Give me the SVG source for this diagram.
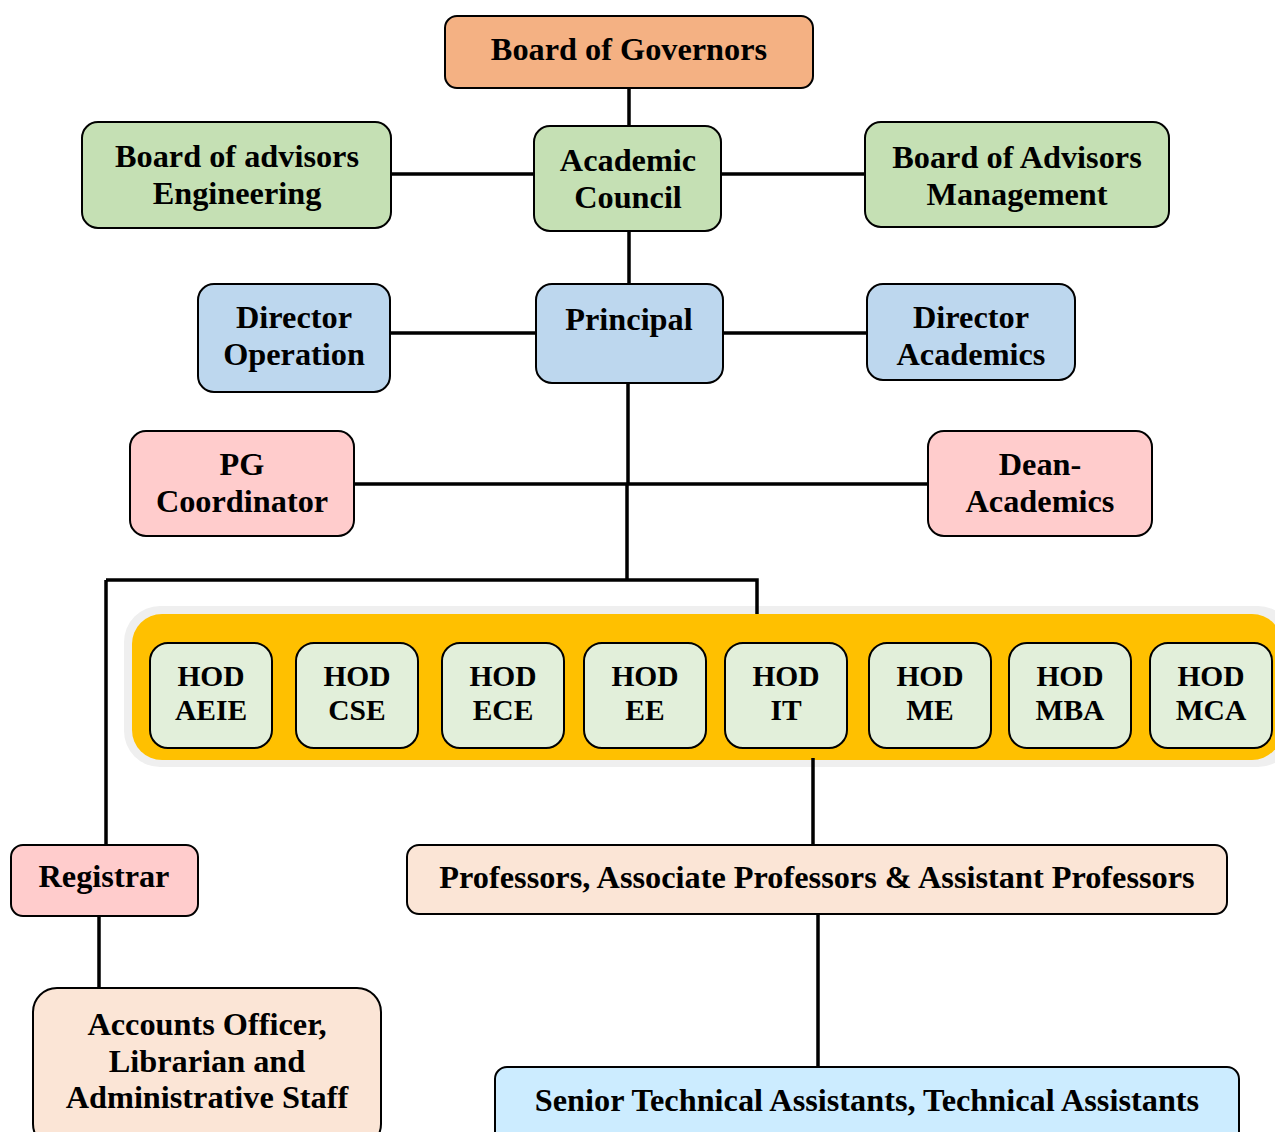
<svg xmlns="http://www.w3.org/2000/svg" width="1275" height="1132" viewBox="0 0 1275 1132">
<style>
.b{stroke:#000;stroke-width:2}
.t{font-family:"Liberation Serif","Times New Roman",serif;font-weight:bold;font-size:32.3px;fill:#000;text-anchor:middle}
.h{font-size:29.5px}
.c{fill:none;stroke:#000;stroke-width:3.5}
.g{fill:#C5E0B4}.bl{fill:#BDD7EE}.pk{fill:#FFCCCC}.hd{fill:#E2EFDA}.pe{fill:#FBE5D6}
</style>
<rect width="1275" height="1132" fill="#fff"/>
<g id="band">
<rect x="124" y="606" width="1170" height="161" rx="36" fill="#EFEFEF"/>
<rect x="132" y="614" width="1150" height="146" rx="30" fill="#FFC000"/>
</g>
<g id="connectors">
<path class="c" d="M629 88V126M391 174H534M721 174H865M629 231V284M390 333H536M723 333H867M628 383V484M354 484H928M627 484V580M106 580H757V614M106 580V845M813 758V845M99 916V988M818 914V1067"/>
</g>
<g id="bog"><rect class="b" x="445" y="16" width="368" height="72" rx="12" fill="#F4B183"/><text class="t" x="629" y="60">Board of Governors</text></g>
<g id="boae"><rect class="b g" x="82" y="122" width="309" height="106" rx="16"/><text class="t" x="237" y="167">Board of advisors</text><text class="t" x="237" y="204">Engineering</text></g>
<g id="ac"><rect class="b g" x="534" y="126" width="187" height="105" rx="16"/><text class="t" x="628" y="171">Academic</text><text class="t" x="628" y="208">Council</text></g>
<g id="boam"><rect class="b g" x="865" y="122" width="304" height="105" rx="16"/><text class="t" x="1017" y="168">Board of Advisors</text><text class="t" x="1017" y="205">Management</text></g>
<g id="dop"><rect class="b bl" x="198" y="284" width="192" height="108" rx="16"/><text class="t" x="294" y="328">Director</text><text class="t" x="294" y="365">Operation</text></g>
<g id="pr"><rect class="b bl" x="536" y="284" width="187" height="99" rx="16"/><text class="t" x="629" y="330">Principal</text></g>
<g id="dac"><rect class="b bl" x="867" y="284" width="208" height="96" rx="16"/><text class="t" x="971" y="328">Director</text><text class="t" x="971" y="365">Academics</text></g>
<g id="pg"><rect class="b pk" x="130" y="431" width="224" height="105" rx="16"/><text class="t" x="242" y="475">PG</text><text class="t" x="242" y="512">Coordinator</text></g>
<g id="dean"><rect class="b pk" x="928" y="431" width="224" height="105" rx="16"/><text class="t" x="1040" y="475">Dean-</text><text class="t" x="1040" y="512">Academics</text></g>
<g id="hod-aeie"><rect class="b hd" x="150" y="643" width="122" height="105" rx="18"/><text class="t h" x="211" y="686">HOD</text><text class="t h" x="211" y="720">AEIE</text></g>
<g id="hod-cse"><rect class="b hd" x="296" y="643" width="122" height="105" rx="18"/><text class="t h" x="357" y="686">HOD</text><text class="t h" x="357" y="720">CSE</text></g>
<g id="hod-ece"><rect class="b hd" x="442" y="643" width="122" height="105" rx="18"/><text class="t h" x="503" y="686">HOD</text><text class="t h" x="503" y="720">ECE</text></g>
<g id="hod-ee"><rect class="b hd" x="584" y="643" width="122" height="105" rx="18"/><text class="t h" x="645" y="686">HOD</text><text class="t h" x="645" y="720">EE</text></g>
<g id="hod-it"><rect class="b hd" x="725" y="643" width="122" height="105" rx="18"/><text class="t h" x="786" y="686">HOD</text><text class="t h" x="786" y="720">IT</text></g>
<g id="hod-me"><rect class="b hd" x="869" y="643" width="122" height="105" rx="18"/><text class="t h" x="930" y="686">HOD</text><text class="t h" x="930" y="720">ME</text></g>
<g id="hod-mba"><rect class="b hd" x="1009" y="643" width="122" height="105" rx="18"/><text class="t h" x="1070" y="686">HOD</text><text class="t h" x="1070" y="720">MBA</text></g>
<g id="hod-mca"><rect class="b hd" x="1150" y="643" width="122" height="105" rx="18"/><text class="t h" x="1211" y="686">HOD</text><text class="t h" x="1211" y="720">MCA</text></g>
<g id="reg"><rect class="b pk" x="11" y="845" width="187" height="71" rx="12"/><text class="t" x="104" y="887">Registrar</text></g>
<g id="acc"><rect class="b pe" x="33" y="988" width="348" height="160" rx="24"/><text class="t" x="207" y="1035">Accounts Officer,</text><text class="t" x="207" y="1072">Librarian and</text><text class="t" x="207" y="1108">Administrative Staff</text></g>
<g id="prof"><rect class="b pe" x="407" y="845" width="820" height="69" rx="12"/><text class="t" x="817" y="888">Professors, Associate Professors &amp; Assistant Professors</text></g>
<g id="sta"><rect class="b" x="495" y="1067" width="744" height="80" rx="12" fill="#CCECFF"/><text class="t" x="867" y="1111">Senior Technical Assistants, Technical Assistants</text></g>
</svg>
